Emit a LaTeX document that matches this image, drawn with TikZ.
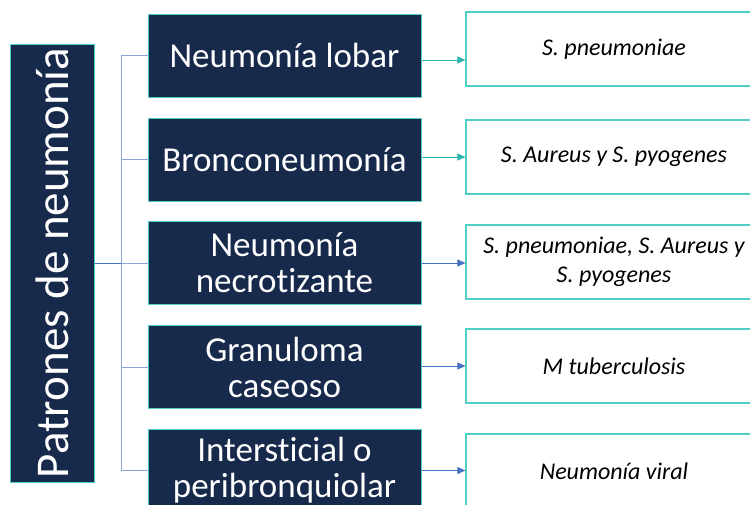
\documentclass[tikz,border=0pt]{standalone}
\usepackage{fontspec}
\setmainfont{Carlito}[Ligatures=NoCommon]
\usetikzlibrary{arrows.meta}
\definecolor{navy}{HTML}{172A4B}
\definecolor{tealb}{HTML}{4FCFC7}
\definecolor{tealarr}{HTML}{2BB5AE}
\definecolor{bluearr}{HTML}{4472C4}
\definecolor{treeline}{HTML}{8FA5D8}
\tikzset{
  darkbox/.style={draw=tealb, line width=1pt, fill=navy, text=white, minimum width=273pt, minimum height=83pt, align=center, inner sep=0pt, font=\fontsize{35}{36}\selectfont},
  titlebox/.style={draw=tealb, line width=1pt, fill=navy, text=white, minimum width=438pt, minimum height=84pt, inner sep=0pt, font=\fontsize{47}{50}\selectfont},
  whitebox/.style={draw=tealb, line width=1.2pt, fill=white, text=black, minimum width=296pt, minimum height=74pt, align=center, inner sep=0pt, font=\fontsize{24}{29}\selectfont\itshape},
  tree/.style={draw=treeline, line width=0.9pt},
  arrT/.style={draw=tealarr, line width=0.9pt, -{Triangle[length=8pt,width=7pt]}},
  arrB/.style={draw=bluearr, line width=0.9pt, -{Triangle[length=8pt,width=7pt]}},
}
\begin{document}
\begin{tikzpicture}[x=1pt,y=-1pt]
\clip (0,0) rectangle (750,504);
\fill[white] (0,0) rectangle (750,504);
\node[titlebox, rotate=90] (title) at (52,263) {Patrones de neumonía};
\node[darkbox] (d1) at (284.5,55.5) {Neumonía lobar};
\node[darkbox] (d2) at (284.5,159.5) {Bronconeumonía};
\node[darkbox] (d3) at (284.5,263) {Neumonía\\necrotizante};
\node[darkbox] (d4) at (284.5,367) {Granuloma\\caseoso};
\node[darkbox] (d5) at (284.5,470.5) {Intersticial o\\peribronquiolar};
\node[whitebox] (r1) at (614,49) {S. pneumoniae};
\node[whitebox] (r2) at (614,157) {S. Aureus y S. pyogenes};
\node[whitebox] (r3) at (614,262) {S. pneumoniae, S. Aureus y\\S. pyogenes};
\node[whitebox] (r4) at (614,366) {M tuberculosis};
\node[whitebox] (r5) at (614,471) {Neumonía viral};
\coordinate (j) at (121,263);
\draw[tree] (d1.west -| j) -- (d5.west -| j);
\foreach \n in {d1,d2,d3,d4,d5}{\draw[tree] (\n.west -| j) -- (\n.west);}
\draw[draw=bluearr, line width=0.9pt] (title.south) -- (j);
\draw[arrT] ([yshift=-4.5pt]d1.east) -- ([yshift=-4.5pt]d1.east -| r1.west);
\draw[arrT] ([yshift=2.5pt]d2.east) -- ([yshift=2.5pt]d2.east -| r2.west);
\draw[arrB] (d3.east) -- (d3.east -| r3.west);
\draw[arrB] ([yshift=1pt]d4.east) -- ([yshift=1pt]d4.east -| r4.west);
\draw[arrB] (d5.east) -- (d5.east -| r5.west);
\end{tikzpicture}
\end{document}
